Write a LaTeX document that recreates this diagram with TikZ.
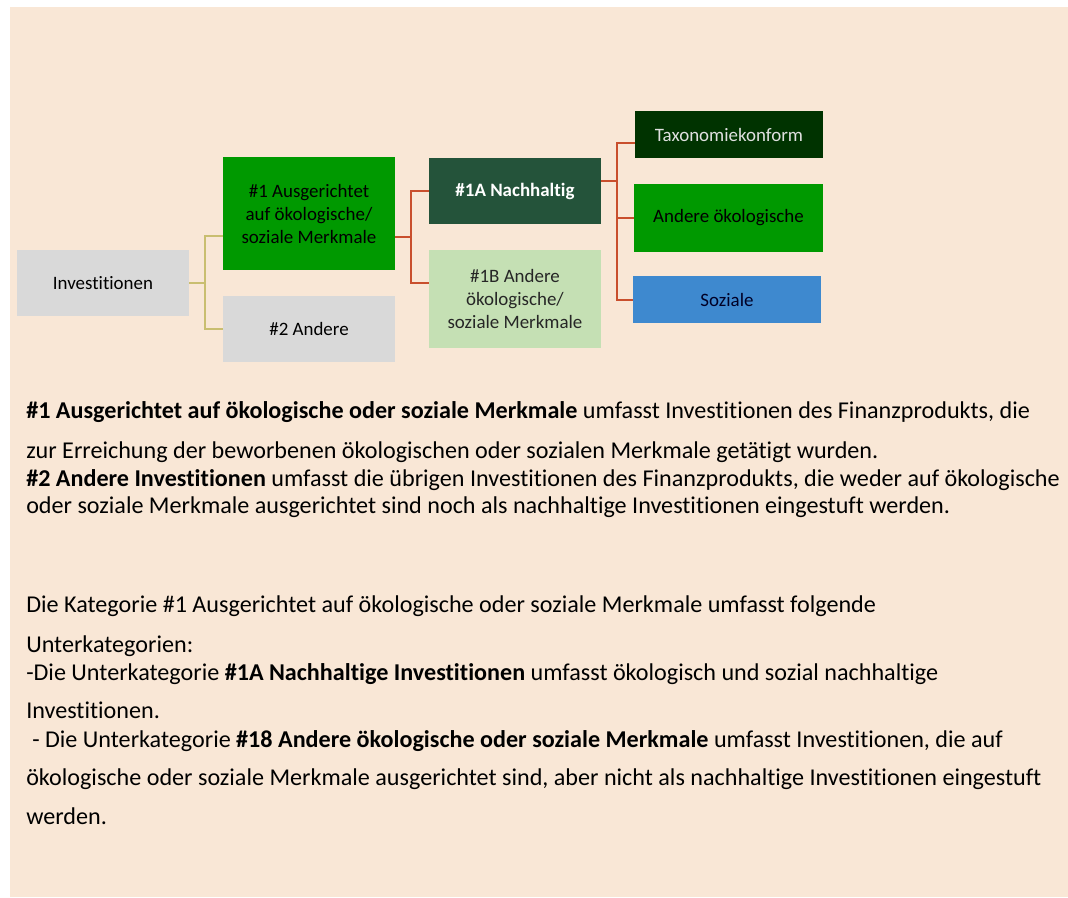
\documentclass[tikz,border=0pt]{standalone}
\usepackage{fontspec}
\setmainfont{Carlito}[Ligatures=NoCommon]
\usetikzlibrary{positioning}

\definecolor{fondbeige}{HTML}{F9E7D6}
\definecolor{grisboite}{HTML}{D9D9D9}
\definecolor{vertvif}{HTML}{009900}
\definecolor{vertfonce}{HTML}{24533A}
\definecolor{vertnuit}{HTML}{003300}
\definecolor{vertpale}{HTML}{C5E0B4}
\definecolor{bleusoc}{HTML}{3E89CF}
\definecolor{traitor}{HTML}{C9BE70}
\definecolor{traitrouge}{HTML}{C94F2D}

\begin{document}
\begin{tikzpicture}[x=0.75pt,y=-0.75pt,
    boite/.style={rectangle, inner sep=0pt, align=center, text=black,
        font=\fontsize{14.2}{17.25}\selectfont},
    ligne/.style={anchor=base west, inner sep=0pt,
        font=\fontsize{18.1}{21}\selectfont},
    lienor/.style={draw=traitor, line width=1.5pt},
    lienrouge/.style={draw=traitrouge, line width=1.5pt}]

    % Fond
    \useasboundingbox (0,0) rectangle (1068,897);
    \fill[fondbeige] (10,7) rectangle (1068,897);

    % Boites du schema
    \node[boite, fill=grisboite, minimum width=129pt, minimum height=49.5pt] (inv) at (103,283) {Investitionen};
    \node[boite, fill=vertvif, minimum width=129pt, minimum height=84.75pt] (ausg) at (309,213.5) {\#1 Ausgerichtet\\auf ökologische/\\soziale Merkmale};
    \node[boite, fill=grisboite, minimum width=129pt, minimum height=49.5pt] (and2) at (309,329) {\#2 Andere};
    \node[boite, fill=vertfonce, text=white, minimum width=129pt, minimum height=49.5pt] (nach) at (515,191) {\textbf{\#1A Nachhaltig}};
    \node[boite, fill=vertpale, text=black!85, minimum width=129pt, minimum height=73.5pt] (andb) at (515,299) {\#1B Andere\\ökologische/\\soziale Merkmale};
    \node[boite, fill=vertnuit, text=white!88!black, minimum width=141pt, minimum height=35.25pt] (taxo) at (729,134.5) {Taxonomiekonform};
    \node[boite, fill=vertvif, minimum width=141.75pt, minimum height=51pt] (aoek) at (728.5,218) {Andere ökologische};
    \node[boite, fill=bleusoc, text=black!85!blue, minimum width=141pt, minimum height=35.25pt] (soz) at (727,299.5) {Soziale};

    % Liens Investitionen
    \draw[lienor] (inv.east) -- ++(16,0) |- ([yshift=-17pt]ausg.west);
    \draw[lienor] (inv.east) -- ++(16,0) |- (and2.west);

    % Liens #1
    \draw[lienrouge] ([yshift=-17.6pt]ausg.east) -- ++(16,0) |- (nach.west);
    \draw[lienrouge] ([yshift=-17.6pt]ausg.east) -- ++(16,0) |- ([yshift=12pt]andb.west);

    % Liens #1A
    \draw[lienrouge] ([yshift=7.5pt]nach.east) -- ++(16,0) |- ([yshift=-6.4pt]taxo.west);
    \draw[lienrouge] ([yshift=7.5pt]nach.east) -- ++(16,0) |- (aoek.west);
    \draw[lienrouge] ([yshift=7.5pt]nach.east) -- ++(16,0) |- (soz.west);

    % Texte explicatif
    \node[ligne] (t1) at (26,418) {\textbf{\#1 Ausgerichtet auf ökologische oder soziale Merkmale} umfasst Investitionen des Finanzprodukts, die};
    \node[ligne] (t2) at (26,458) {zur Erreichung der beworbenen ökologischen oder sozialen Merkmale getätigt wurden.};
    \node[ligne] (t3) at (26,486) {\textbf{\#2 Andere Investitionen} umfasst die übrigen Investitionen des Finanzprodukts, die weder auf ökologische};
    \node[ligne] (t4) at (26,513) {oder soziale Merkmale ausgerichtet sind noch als nachhaltige Investitionen eingestuft werden.};

    % Sous-categories
    \node[ligne] (t5) at (26,612) {Die Kategorie \#1 Ausgerichtet auf ökologische oder soziale Merkmale umfasst folgende};
    \node[ligne] (t6) at (26,652) {Unterkategorien:};
    \node[ligne] (t7) at (26,680) {-Die Unterkategorie \textbf{\#1A Nachhaltige Investitionen} umfasst ökologisch und sozial nachhaltige};
    \node[ligne] (t8) at (26,718) {Investitionen.};
    \node[ligne] (t9) at (32,747) {- Die Unterkategorie \textbf{\#18 Andere ökologische oder soziale Merkmale} umfasst Investitionen, die auf};
    \node[ligne] (t10) at (26,785) {ökologische oder soziale Merkmale ausgerichtet sind, aber nicht als nachhaltige Investitionen eingestuft};
    \node[ligne] (t11) at (26,824) {werden.};
\end{tikzpicture}
\end{document}
